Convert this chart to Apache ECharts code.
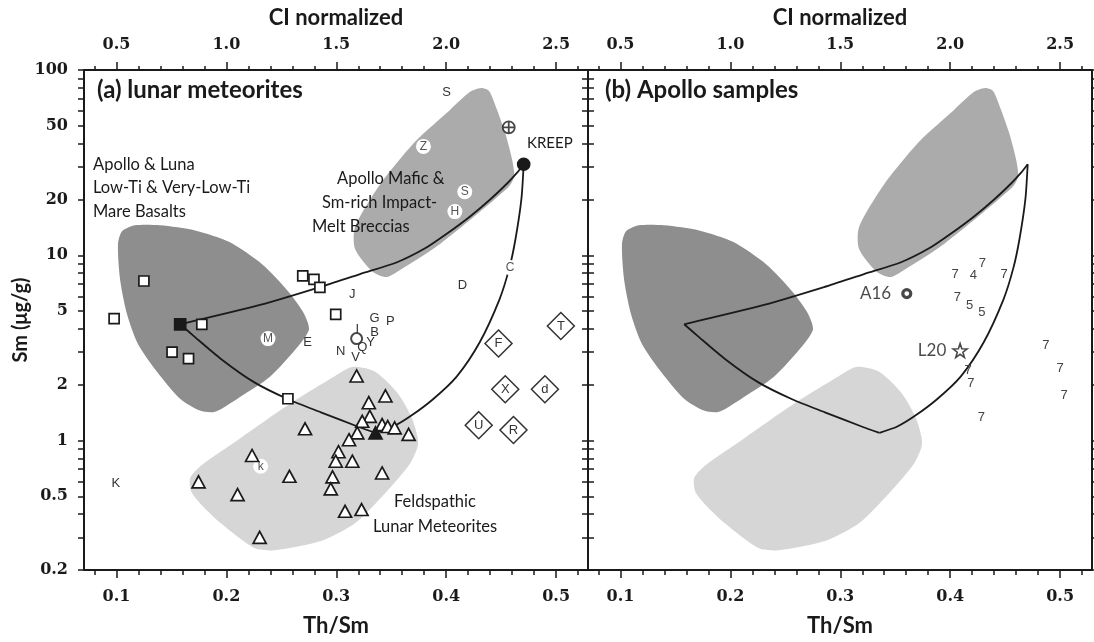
<!DOCTYPE html>
<html><head><meta charset="utf-8">
<script src="https://cdn.jsdelivr.net/npm/echarts@6/dist/echarts.min.js"></script>
<style>html,body{margin:0;padding:0;background:#fff}#c{width:1094px;height:642px}</style>
</head><body><div id="c"></div>
<script>
// ---------- tick labels ----------
const thSmMajor = [0.1, 0.2, 0.3, 0.4, 0.5];
const thSmMinor = [0.08, 0.10, 0.12, 0.14, 0.16, 0.18, 0.20, 0.22, 0.24, 0.26, 0.28, 0.30, 0.32, 0.34, 0.36, 0.38, 0.40, 0.42, 0.44, 0.46, 0.48, 0.50, 0.52];
const ciMajor = [0.5, 1.0, 1.5, 2.0, 2.5];
const ciMinor = [0.4, 0.5, 0.6, 0.7, 0.8, 0.9, 1.0, 1.1, 1.2, 1.3, 1.4, 1.5, 1.6, 1.7, 1.8, 1.9, 2.0, 2.1, 2.2, 2.3, 2.4, 2.5, 2.6];
const smLabels = [0.2, 0.5, 1, 2, 5, 10, 20, 50, 100];
const smTicks = [0.2, 0.3, 0.4, 0.5, 0.6, 0.7, 0.8, 0.9, 1, 2, 3, 4, 5, 6, 7, 8, 9, 10, 20, 30, 40, 50, 60, 70, 80, 90, 100];

// ---------- fields [Th/Sm, Sm] ----------
const mareBasaltField = [[0.1014,11.46],[0.1051,13.46],[0.1169,14.5],[0.1397,14.5],[0.1715,13.6],[0.2033,11.74],[0.2325,8.94],[0.2561,6.40],[0.2698,4.94],[0.2752,4.0],[0.267,3.32],[0.2397,2.21],[0.2124,1.72],[0.1897,1.43],[0.176,1.45],[0.1579,1.68],[0.1369,2.35],[0.1196,3.32],[0.1096,4.82],[0.1033,7.43]];
const maficBrecciaField = [[0.4317,80],[0.439,77.1],[0.4463,60.9],[0.4536,45.8],[0.46,32.8],[0.4618,26.6],[0.4563,23.2],[0.3944,11.5],[0.3562,8.2],[0.3453,7.62],[0.3326,8.2],[0.3171,10.8],[0.3171,14.2],[0.3398,24.1],[0.3717,41.0],[0.4035,60.9],[0.4217,76.2]];
const feldspathicField = [[0.3153,2.50],[0.3353,2.35],[0.3562,1.79],[0.369,1.31],[0.3744,0.964],[0.3671,0.752],[0.3444,0.519],[0.3171,0.358],[0.2852,0.286],[0.2443,0.256],[0.2261,0.262],[0.1897,0.381],[0.1688,0.519],[0.167,0.625],[0.1761,0.725],[0.2124,1.026],[0.2579,1.58],[0.2989,2.23]];

// ---------- mixing curves ----------
const mixMareKreep = [[0.158,4.24],[0.2306,5.39],[0.2852,6.73],[0.3216,7.91],[0.3553,9.17],[0.3808,10.9],[0.4008,13.1],[0.4217,16.2],[0.44,20.0],[0.4554,24.4],[0.4645,27.9],[0.4705,31]];
const mixKreepFeld = [[0.4705,31],[0.4684,20.1],[0.463,12.2],[0.4576,8.6],[0.4485,5.78],[0.4305,3.39],[0.4097,2.22],[0.388,1.67],[0.3673,1.35],[0.3519,1.19],[0.3357,1.10]];
const mixMareFeld = [[0.158,4.24],[0.1686,3.74],[0.1957,2.74],[0.2255,2.06],[0.2562,1.67],[0.286,1.42],[0.3194,1.19],[0.3357,1.10]];

// ---------- panel (a) points ----------
const openSquares = [[0.125,7.26],[0.2695,7.73],[0.2797,7.41],[0.2851,6.71],[0.0979,4.55],[0.1777,4.24],[0.1506,3.0],[0.1656,2.77],[0.256,1.68],[0.2995,4.80]];
const mareEnd = [[0.158,4.24]];
const openTriangles = [[0.3185,2.23],[0.3447,1.74],[0.3296,1.60],[0.3305,1.35],[0.3236,1.27],[0.3417,1.22],[0.3468,1.19],[0.3531,1.17],[0.3658,1.08],[0.2716,1.157],[0.3191,1.10],[0.3116,1.01],[0.302,0.87],[0.2995,0.773],[0.3146,0.773],[0.2234,0.83],[0.3417,0.668],[0.2574,0.641],[0.2966,0.636],[0.295,0.548],[0.1747,0.598],[0.2102,0.51],[0.308,0.415],[0.3230,0.424],[0.2303,0.30]];
const feldEnd = [[0.3357,1.10]];
const kreepEnd = [[0.4705,31]];
const crossCircle = [[0.4569,49.0]];
const openCircle = [[0.3185,3.55]];
const plainLetters = [['S',0.4004,75.7],['D',0.4148,6.91],['J',0.3146,6.15],['E',0.274,3.37],['G',0.3348,4.55],['P',0.3492,4.42],['B',0.3348,3.85],['I',0.3191,3.98],['N',0.304,3.04],['V',0.3176,2.80],['Q',0.3236,3.2],['Y',0.3312,3.37],['K',0.0994,0.59]];
const circledLetters = [['Z',0.3793,38.7],['S',0.4169,22.0],['H',0.4079,17.2],['M',0.2379,3.55],['k',0.2312,0.726],['C',0.4582,8.58]];
const diamonds = [['T',0.5043,4.15],['F',0.4476,3.34],['X',0.4537,1.89],['d',0.4898,1.89],['U',0.4296,1.21],['R',0.4612,1.14]];

// ---------- panel (b) points ----------
const apolloDigits = [['7',0.4044,7.9],['4',0.4211,7.74],['7',0.4293,9.06],['7',0.4490,7.9],['7',0.4066,5.93],['5',0.4176,5.34],['5',0.4289,4.92],['7',0.4163,2.38],['7',0.4187,2.03],['7',0.4284,1.34],['7',0.4870,3.25],['7',0.5000,2.46],['7',0.5036,1.75]];
const a16 = [['A16',0.3605,6.21]];
const l20 = [['L20',0.409,3.06]];

// ---------- build ----------
const XMIN = 0.0705, XMAX = 0.529, CI = 5;
const L = Math.log10;
const INK = '#1a1a1a';
const SERIF = '"DejaVu Serif", serif';
const SANS = 'Lato, "Open Sans", sans-serif';
const pts = arr => arr.map(p => [p[0], L(p[1])]);
const named = arr => arr.map(p => ({name: p[0], value: [p[1], L(p[2])]}));

const grids = [
  {left: 84, top: 70, width: 504, height: 502},
  {left: 588, top: 70, width: 504, height: 502}
];
const xAxes = [], yAxes = [];
grids.forEach((g, i) => {
  const line = {show: true, onZero: false, lineStyle: {color: INK, width: 2}};
  const lab = {fontFamily: SERIF, fontWeight: 'bold', fontSize: 16, color: INK};
  const nameStyle = {fontFamily: SANS, fontWeight: 'bold', fontSize: 22, color: INK};
  xAxes.push({gridIndex: i, type: 'value', position: 'bottom', min: XMIN, max: XMAX, axisLine: line,
    axisTick: {customValues: thSmMinor, length: 5, lineStyle: {color: INK, width: 1.5}},
    axisLabel: {show: false}, splitLine: {show: false}});
  xAxes.push({gridIndex: i, type: 'value', position: 'bottom', min: XMIN, max: XMAX, axisLine: {show: false, onZero: false},
    axisTick: {customValues: thSmMajor, length: 8, lineStyle: {color: INK, width: 1.5}},
    axisLabel: Object.assign({customValues: thSmMajor, margin: 19, formatter: v => v.toFixed(1)}, lab),
    splitLine: {show: false}, name: 'Th/Sm', nameLocation: 'middle', nameGap: 45, nameTextStyle: nameStyle});
  xAxes.push({gridIndex: i, type: 'value', position: 'top', min: XMIN * CI, max: XMAX * CI, axisLine: line,
    axisTick: {customValues: ciMinor, length: 4, lineStyle: {color: INK, width: 1.5}},
    axisLabel: {show: false}, splitLine: {show: false}});
  xAxes.push({gridIndex: i, type: 'value', position: 'top', min: XMIN * CI, max: XMAX * CI, axisLine: {show: false, onZero: false},
    axisTick: {customValues: ciMajor, length: 8, lineStyle: {color: INK, width: 1.5}},
    axisLabel: Object.assign({customValues: ciMajor, margin: 17, formatter: v => v.toFixed(1)}, lab),
    splitLine: {show: false}, name: 'CI normalized', nameLocation: 'middle', nameGap: 41, nameTextStyle: nameStyle});
  const yl = {gridIndex: i, type: 'value', position: 'left', min: L(0.2), max: 2, axisLine: line,
    axisTick: {customValues: smTicks.map(L), length: 6, lineStyle: {color: INK, width: 1.5}},
    splitLine: {show: false}};
  if (i === 0) {
    yl.axisLabel = Object.assign({customValues: smLabels.map(L), margin: 16,
      formatter: v => String(Math.round(Math.pow(10, v) * 10) / 10)}, lab);
    yl.name = 'Sm (μg/g)'; yl.nameLocation = 'middle'; yl.nameGap = 53;
    yl.nameTextStyle = {fontFamily: SANS, fontWeight: 'bold', fontSize: 20, color: INK};
  } else {
    yl.axisLabel = {show: false};
  }
  yAxes.push(yl);
  yAxes.push({gridIndex: i, type: 'value', position: 'right', min: L(0.2), max: 2, axisLine: line,
    axisTick: {customValues: smTicks.map(L), length: 6, lineStyle: {color: INK, width: 1.5}},
    axisLabel: {show: false}, splitLine: {show: false}});
});

function field(points, color, gi) {
  return {type: 'custom', xAxisIndex: gi * 4, yAxisIndex: gi * 2, silent: true, z: 1, clip: true,
    data: [pts(points)[0]],
    renderItem: (params, api) => ({type: 'polygon',
      shape: {points: pts(points).map(p => api.coord(p)), smooth: 0.25},
      style: {fill: color}})};
}
function curve(points, gi) {
  return {type: 'line', xAxisIndex: gi * 4, yAxisIndex: gi * 2, data: pts(points), smooth: 0.25,
    symbol: 'none', silent: true, z: 2, lineStyle: {color: INK, width: 1.8}};
}
function marks(points, symbol, size, fill, gi, extra) {
  return Object.assign({type: 'scatter', xAxisIndex: gi * 4, yAxisIndex: gi * 2, data: pts(points),
    symbol: symbol, symbolSize: size, silent: true, z: 4,
    itemStyle: {color: fill, borderColor: INK, borderWidth: 1.7, opacity: 1}}, extra || {});
}
function letters(list, gi, opts) {
  return {type: 'scatter', xAxisIndex: gi * 4, yAxisIndex: gi * 2, data: named(list), silent: true, z: opts.z || 5,
    symbol: opts.symbol || 'circle', symbolSize: opts.size || 1,
    itemStyle: {color: opts.fill || 'rgba(0,0,0,0)', borderColor: opts.border || 'rgba(0,0,0,0)', borderWidth: opts.bw || 0, opacity: 1},
    label: {show: true, position: 'inside', formatter: '{b}', color: opts.color || '#333',
      fontFamily: 'Liberation Sans, Arial, sans-serif', fontSize: opts.fs || 13}};
}

const series = [];
[0, 1].forEach(gi => {
  series.push(field(mareBasaltField, '#8e8e8e', gi));
  series.push(field(maficBrecciaField, '#ababab', gi));
  series.push(field(feldspathicField, '#d6d6d6', gi));
  series.push(curve(mixMareKreep, gi));
  series.push(curve(mixKreepFeld, gi));
  series.push(curve(mixMareFeld, gi));
});
// panel (a)
series.push(marks(openSquares, 'rect', 10, '#fff', 0));
series.push(marks(openTriangles, 'triangle', [13, 12], '#fff', 0));
series.push(marks(mareEnd, 'rect', 11, INK, 0));
series.push(marks(feldEnd, 'triangle', [13, 12], INK, 0));
series.push(marks(kreepEnd, 'circle', 12, INK, 0));
series.push(marks(openCircle, 'circle', 11, '#fff', 0, {itemStyle: {color: '#fff', borderColor: INK, borderWidth: 2}}));
series.push(marks(crossCircle, 'path://M10,0 A10,10 0 1,1 -10,0 A10,10 0 1,1 10,0 Z M-10,0 L10,0 M0,-10 L0,10', 12, '#fff', 0,
  {itemStyle: {color: '#fff', borderColor: INK, borderWidth: 1.8}}));
series.push(letters(plainLetters, 0, {color: '#333'}));
series.push(letters(circledLetters, 0, {size: 15, fill: '#fff', color: '#555', z: 3, fs: 12}));
series.push(letters(diamonds, 0, {symbol: 'diamond', size: 27, fill: '#fff', border: '#333', bw: 1.5, color: '#333'}));
// panel (b)
series.push(letters(apolloDigits, 1, {color: '#444', fs: 13}));
series.push({type: 'scatter', xAxisIndex: 4, yAxisIndex: 2, data: named(a16), symbol: 'circle', symbolSize: 8, silent: true, z: 5,
  itemStyle: {color: '#fff', borderColor: INK, borderWidth: 3.2},
  label: {show: true, position: 'left', distance: 10, formatter: '{b}', color: INK, fontFamily: SANS, fontSize: 17}});
series.push({type: 'scatter', xAxisIndex: 4, yAxisIndex: 2, data: named(l20),
  symbol: 'path://M0,-10 L2.35,-3.24 L9.51,-3.09 L3.8,1.24 L5.88,8.09 L0,4 L-5.88,8.09 L-3.8,1.24 L-9.51,-3.09 L-2.35,-3.24 Z',
  symbolSize: 14, silent: true, z: 5, itemStyle: {color: '#fff', borderColor: INK, borderWidth: 1.6},
  label: {show: true, position: 'left', distance: 6, formatter: '{b}', color: INK, fontFamily: SANS, fontSize: 17}});

const txt = (text, left, top, size, bold) => ({type: 'text', left: left, top: top, z: 100,
  style: {text: text, fontFamily: SANS, fontSize: size, fontWeight: bold ? 'bold' : 'normal', fill: INK}});

const chart = echarts.init(document.getElementById('c'), null, {renderer: 'canvas'});
chart.setOption({
  animation: false,
  backgroundColor: '#fff',
  grid: grids,
  xAxis: xAxes,
  yAxis: yAxes,
  series: series,
  graphic: [
    txt('(a) lunar meteorites', 97, 78, 24, true),
    txt('(b) Apollo samples', 605, 78, 24, true),
    txt('Apollo & Luna', 93, 156, 16.5),
    txt('Low-Ti & Very-Low-Ti', 93, 179, 16.5),
    txt('Mare Basalts', 93, 203, 16.5),
    txt('Apollo Mafic &', 337, 170, 16.5),
    txt('Sm-rich Impact-', 322, 194, 16.5),
    txt('Melt Breccias', 312, 218, 16.5),
    txt('KREEP', 527, 136, 15),
    txt('Feldspathic', 394, 493, 16.5),
    txt('Lunar Meteorites', 373, 518, 16.5)
  ]
});
</script></body></html>
